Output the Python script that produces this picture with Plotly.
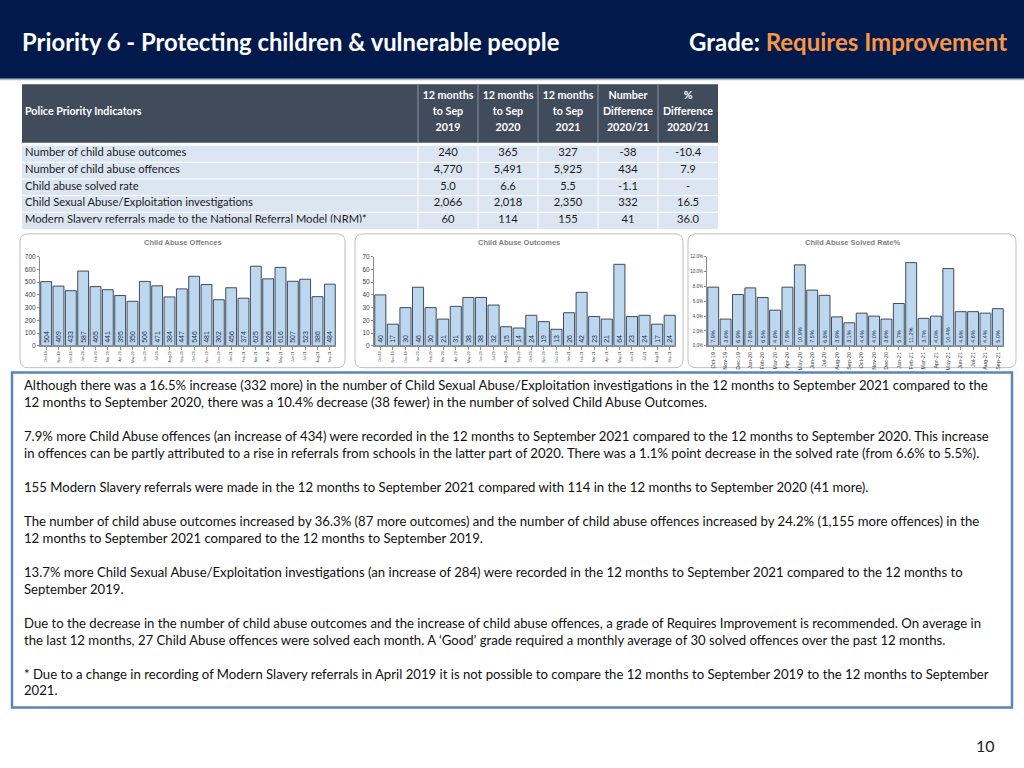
import plotly.graph_objects as go

W, H = 1024, 768
FONT = "Lato, Open Sans, sans-serif"

# ---------------- data ----------------
months = ["Oct-19", "Nov-19", "Dec-19", "Jan-20", "Feb-20", "Mar-20", "Apr-20", "May-20",
          "Jun-20", "Jul-20", "Aug-20", "Sep-20", "Oct-20", "Nov-20", "Dec-20", "Jan-21",
          "Feb-21", "Mar-21", "Apr-21", "May-21", "Jun-21", "Jul-21", "Aug-21", "Sep-21"]
offences = [504, 469, 433, 587, 465, 441, 395, 350, 506, 471, 384, 447,
            546, 481, 362, 456, 374, 625, 526, 616, 507, 523, 386, 484]
outcomes = [40, 17, 30, 46, 30, 21, 31, 38, 38, 32, 15, 14,
            24, 19, 13, 26, 42, 23, 21, 64, 23, 24, 17, 24]
solved_rate = [7.9, 3.6, 6.9, 7.8, 6.5, 4.8, 7.9, 10.9, 7.5, 6.8, 3.9, 3.1,
               4.4, 4.0, 3.6, 5.7, 11.2, 3.7, 4.0, 10.4, 4.6, 4.6, 4.4, 5.0]

# header text split per line (line 1, line 2, line 3) for each column
hdr_line1 = ["", "12 months", "12 months", "12 months", "Number", "%"]
hdr_line2 = ["Police Priority Indicators", "to Sep", "to Sep", "to Sep", "Difference", "Difference"]
hdr_line3 = ["", "2019", "2020", "2021", "2020/21", "2020/21"]
indicators = ["Number of child abuse outcomes", "Number of child abuse offences",
              "Child abuse solved rate", "Child Sexual Abuse/Exploitation investigations",
              "Modern Slavery referrals made to the National Referral Model (NRM)*"]
col_2019 = ["240", "4,770", "5.0", "2,066", "60"]
col_2020 = ["365", "5,491", "6.6", "2,018", "114"]
col_2021 = ["327", "5,925", "5.5", "2,350", "155"]
num_diff = ["-38", "434", "-1.1", "332", "41"]
pct_diff = ["-10.4", "7.9", "-", "16.5", "36.0"]

title_text = "Priority 6 - Protecting children & vulnerable people"
grade_label = "Grade: "
grade_value = "Requires Improvement"

commentary = [
    "Although there was a 16.5% increase (332 more) in the number of Child Sexual Abuse/Exploitation investigations in the 12 months to September 2021 compared to the",
    "12 months to September 2020, there was a 10.4% decrease (38 fewer) in the number of solved Child Abuse Outcomes.",
    "",
    "7.9% more Child Abuse offences (an increase of 434) were recorded in the 12 months to September 2021 compared to the 12 months to September 2020. This increase",
    "in offences can be partly attributed to a rise in referrals from schools in the latter part of 2020. There was a 1.1% point decrease in the solved rate (from 6.6% to 5.5%).",
    "",
    "155 Modern Slavery referrals were made in the 12 months to September 2021 compared with 114 in the 12 months to September 2020 (41 more).",
    "",
    "The number of child abuse outcomes increased by 36.3% (87 more outcomes) and the number of child abuse offences increased by 24.2% (1,155 more offences) in the",
    "12 months to September 2021 compared to the 12 months to September 2019.",
    "",
    "13.7% more Child Sexual Abuse/Exploitation investigations (an increase of 284) were recorded in the 12 months to September 2021 compared to the 12 months to",
    "September 2019.",
    "",
    "Due to the decrease in the number of child abuse outcomes and the increase of child abuse offences, a grade of Requires Improvement is recommended. On average in",
    "the last 12 months, 27 Child Abuse offences were solved each month. A \u2018Good\u2019 grade required a monthly average of 30 solved offences over the past 12 months.",
    "",
    "* Due to a change in recording of Modern Slavery referrals in April 2019 it is not possible to compare the 12 months to September 2019 to the 12 months to September",
    "2021.",
]
page_number = "10"


def px(x):
    return x / W


def py(y):
    return 1 - y / H


def hcell(s):
    """Header cell text; keep multi-word labels on one line."""
    if not s:
        return "\u00a0"
    if s[0].isdigit():
        s = s.replace(" ", "\u00a0")
    return s


fig = go.Figure()
ALIGN = ["left", "center", "center", "center", "center", "center"]
COLW = [401, 60, 60, 60, 60, 60]
HDR_FILL = "#404B5C"
BODY_FILL = "#DCE6F2"
CLEAR = "rgba(0,0,0,0)"

shapes = []
annotations = []

# ---------------- table ----------------
# backgrounds (table cells are transparent, drawn over these)
shapes.append(dict(type="rect", xref="paper", yref="paper", x0=px(22), x1=px(718),
                   y0=py(140), y1=py(81), fillcolor=HDR_FILL, line=dict(width=0), layer="below"))
shapes.append(dict(type="rect", xref="paper", yref="paper", x0=px(22), x1=px(718),
                   y0=py(227), y1=py(143), fillcolor=BODY_FILL, line=dict(width=0), layer="below"))
xsep = 17
for w in COLW[:-1]:
    xsep += w
    shapes.append(dict(type="line", xref="paper", yref="paper", x0=px(xsep), x1=px(xsep),
                       y0=py(140), y1=py(81), line=dict(color="#8A97A8", width=1), layer="below"))
    shapes.append(dict(type="line", xref="paper", yref="paper", x0=px(xsep), x1=px(xsep),
                       y0=py(227), y1=py(143), line=dict(color="white", width=1), layer="below"))

HROW = 16.2
HTOP = 79.5
hdr_font = dict(color="white", size=10.7, family=FONT, weight="bold")
fig.add_trace(go.Table(
    domain=dict(x=[px(17), px(718)], y=[py(HTOP + 3 * HROW + 2), py(HTOP)]),
    columnwidth=COLW,
    header=dict(values=[hcell(v) for v in hdr_line1], fill_color=CLEAR, font=hdr_font,
                align=ALIGN, height=HROW, line=dict(color=CLEAR, width=0)),
    cells=dict(values=[[hcell(a), hcell(b)] for a, b in zip(hdr_line2, hdr_line3)],
               fill_color=CLEAR, font=hdr_font, align=ALIGN, height=HROW,
               line=dict(color=CLEAR, width=0)),
))
cols = [indicators, col_2019, col_2020, col_2021, num_diff, pct_diff]
cell_font = dict(color="#1A1A1A", size=11.2, family=FONT)
RROW = 16.7
RTOP = 137.0
fig.add_trace(go.Table(
    domain=dict(x=[px(17), px(718)], y=[py(RTOP + 5 * RROW + 1), py(RTOP)]),
    columnwidth=COLW,
    header=dict(values=[c[0] for c in cols], fill_color=CLEAR, font=cell_font,
                align=ALIGN, height=RROW, line=dict(color=CLEAR, width=0)),
    cells=dict(values=[c[1:] for c in cols], fill_color=CLEAR, font=cell_font,
               align=ALIGN, height=RROW, line=dict(color=CLEAR, width=0)),
))
for k in range(1, 5):
    yl = 143 + k * 16.8
    shapes.append(dict(type="line", xref="paper", yref="paper", x0=px(22), x1=px(718),
                       y0=py(yl), y1=py(yl), line=dict(color="white", width=1), layer="below"))

# ---------------- bar charts ----------------
bar_fill = "#BDD7EE"
bar_line = "#3E4C5E"
lbl_color = "#1F2F4F"

charts = [
    dict(y=offences, text=[str(v) for v in offences], title="Child Abuse Offences",
         x0=40, x1=336, rng=[0, 700], dtick=100, fmt=None, panel=(20, 345), xfs=3.5, yfs=6.5),
    dict(y=outcomes, text=[str(v) for v in outcomes], title="Child Abuse Outcomes",
         x0=374, x1=676, rng=[0, 70], dtick=10, fmt=None, panel=(355, 683), xfs=3.5, yfs=6.5),
    dict(y=solved_rate, text=["%.1f%%" % v for v in solved_rate], title="Child Abuse Solved Rate%",
         x0=707, x1=1004, rng=[0, 12], dtick=2, fmt="pct", panel=(688, 1016), xfs=5.5, yfs=4.5),
]

# header band
shapes.append(dict(type="rect", xref="paper", yref="paper", x0=-0.02, x1=1.02, y0=py(75.5), y1=1.05,
                   fillcolor="#021A4B", line=dict(width=0), layer="below"))
shapes.append(dict(type="rect", xref="paper", yref="paper", x0=-0.02, x1=1.02, y0=py(77), y1=py(75.5),
                   fillcolor="#B4BCC8", line=dict(width=0), layer="below"))


def rounded(x0, y0, x1, y1, r):
    rx, ry = r / W, r / H
    X0, X1, Y0, Y1 = px(x0), px(x1), py(y1), py(y0)
    return (f"M {X0+rx},{Y1} L {X1-rx},{Y1} Q {X1},{Y1} {X1},{Y1-ry} "
            f"L {X1},{Y0+ry} Q {X1},{Y0} {X1-rx},{Y0} L {X0+rx},{Y0} "
            f"Q {X0},{Y0} {X0},{Y0+ry} L {X0},{Y1-ry} Q {X0},{Y1} {X0+rx},{Y1} Z")


for i, c in enumerate(charts):
    n = "" if i == 0 else str(i + 1)
    fig.add_trace(go.Bar(
        x=months, y=c["y"], xaxis="x" + n, yaxis="y" + n,
        marker=dict(color=bar_fill, line=dict(color=bar_line, width=1)),
        text=c["text"], textposition="inside", insidetextanchor="start", textangle=-90,
        textfont=dict(size=7 if i < 2 else 5.5, color=lbl_color, family="Arial"),
        constraintext="none", cliponaxis=False, hoverinfo="skip", showlegend=False,
    ))
    xa = dict(domain=[px(c["x0"]), px(c["x1"])], anchor="y" + n, tickangle=-90,
              tickfont=dict(size=c["xfs"], color="#404040", family="Arial"),
              showline=True, linecolor="#8C8C8C", linewidth=1, ticks="outside",
              ticklen=3, tickcolor="#8C8C8C", showgrid=False, fixedrange=True)
    ya = dict(domain=[py(345), py(255)], anchor="x" + n, range=c["rng"], dtick=c["dtick"],
              tickfont=dict(size=c["yfs"], color="#404040", family="Arial"),
              showline=True, linecolor="#8C8C8C", linewidth=1, ticks="outside", ticklen=2,
              tickcolor="#8C8C8C", showgrid=False, zeroline=False, fixedrange=True)
    if c["fmt"] == "pct":
        ya.update(tickformat=".1f", ticksuffix="%")
    fig.layout["xaxis" + n] = xa
    fig.layout["yaxis" + n] = ya
    p0, p1 = c["panel"]
    shapes.append(dict(type="path", xref="paper", yref="paper", path=rounded(p0, 232, p1, 367, 8),
                       line=dict(color="#BFBFBF", width=1), fillcolor=CLEAR, layer="below"))
    annotations.append(dict(xref="paper", yref="paper", x=(px(p0) + px(p1)) / 2, y=py(241),
                            text="<b>%s</b>" % c["title"], showarrow=False,
                            font=dict(size=7.5, color="#7F7F7F", family="Arial"),
                            xanchor="center", yanchor="middle"))

# commentary box
shapes.append(dict(type="rect", xref="paper", yref="paper", x0=px(12), x1=px(1012),
                   y0=py(710), y1=py(372), line=dict(color="#5B84BE", width=2.5),
                   fillcolor=CLEAR))
y = 385.0
for line in commentary:
    if line:
        annotations.append(dict(xref="paper", yref="paper", x=px(21.5), y=py(y), text=line,
                                showarrow=False, xanchor="left", yanchor="middle",
                                font=dict(size=13.15, color="#111111", family=FONT)))
    y += 17.1

# title
annotations.append(dict(xref="paper", yref="paper", x=px(20), y=py(38),
                        text="<b>%s</b>" % title_text, showarrow=False,
                        xanchor="left", yanchor="middle",
                        font=dict(size=23.8, color="white", family=FONT)))
annotations.append(dict(xref="paper", yref="paper", x=px(1009), y=py(38),
                        text="<b>%s<span style='color:#F79646'>%s</span></b>" % (grade_label, grade_value),
                        showarrow=False, xanchor="right", yanchor="middle",
                        font=dict(size=24, color="white", family=FONT)))
annotations.append(dict(xref="paper", yref="paper", x=px(985), y=py(748), text=page_number,
                        showarrow=False, xanchor="center", yanchor="middle",
                        font=dict(size=16, color="#222222", family=FONT)))

fig.update_layout(
    width=W, height=H, margin=dict(l=0, r=0, t=0, b=0),
    paper_bgcolor="white", plot_bgcolor="white",
    bargap=0.12, shapes=shapes, annotations=annotations, showlegend=False,
)

fig.write_html("out.html", config=dict(displayModeBar=False),
               post_script="document.body.style.margin='0';document.body.style.overflow='hidden';")
